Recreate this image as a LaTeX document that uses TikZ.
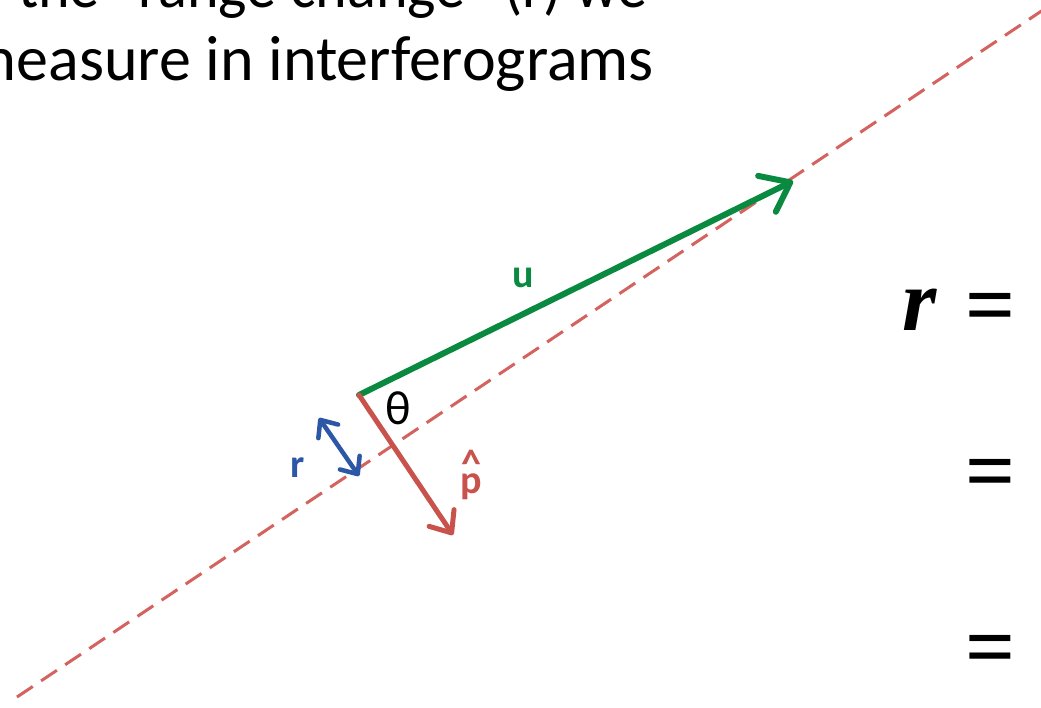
\documentclass[tikz,border=0pt]{standalone}
\usepackage{fontspec}
\setmainfont{Carlito}
\newfontfamily\timesfont{Liberation Serif}
\usetikzlibrary{arrows.meta}
\definecolor{ugreen}{RGB}{10,138,64}
\definecolor{pred}{RGB}{200,82,76}
\definecolor{rblue}{RGB}{44,86,166}
\definecolor{dashred}{RGB}{212,98,94}
\tikzset{
  dashline/.style={draw=dashred, line width=3pt, dash pattern=on 19pt off 10pt},
  uarrow/.style={draw=ugreen, line width=6pt, line cap=round,
    -{Straight Barb[length=26pt, width=40pt, line width=6pt, round]}},
  parrow/.style={draw=pred, line width=5pt, line cap=round,
    -{Straight Barb[length=18pt, width=30pt, line width=5pt, round]}},
  rarrow/.style={draw=rblue, line width=4.5pt, line cap=round,
    {Straight Barb[length=14pt, width=24pt, line width=4.5pt, round]}-{Straight Barb[length=14pt, width=24pt, line width=4.5pt, round]}},
  toptext/.style={font=\fontsize{64}{72}\selectfont, inner sep=0pt, text=black},
  lbl/.style={font=\fontsize{40}{48}\selectfont\bfseries, inner sep=0pt},
  eqtext/.style={font=\timesfont\fontsize{88}{100}\selectfont\bfseries, inner sep=0pt, text=black}
}
\begin{document}
\begin{tikzpicture}[x=1pt,y=-1pt]
\useasboundingbox (0,0) rectangle (1041,707);
\clip (0,0) rectangle (1041,707);
\fill[white] (0,0) rectangle (1041,707);
% top text
\node[toptext, anchor=base west, xscale=0.94, transform shape] (t1) at (18,7) {the “range change” (r) we};
\node[toptext, anchor=base east] (t2) at (654,80) {measure in interferograms};
% dashed line of sight
\coordinate (L1) at (17,697);
\coordinate (L2) at (1043,10);
\draw[dashline] (L1) -- (L2);
% vectors
\coordinate (O) at (359,395);
\coordinate (U) at (793,181);
\coordinate (P) at (453,535);
\coordinate (B1) at (319,418);
\coordinate (B2) at (359,476);
\draw[uarrow] (O) -- (U);
\draw[parrow] (O) -- (P);
\draw[rarrow] (B1) -- (B2);
% labels
\node[lbl, text=ugreen] (lu) at (523,278) {u};
\node[font=\fontsize{48}{56}\selectfont, inner sep=0pt] (lth) at (398,408) {θ};
\node[lbl, text=rblue] (lr) at (298,468) {r};
\node[lbl, text=pred, align=center, anchor=base] (lp) at (471,493) {\^{}\\[-32pt]p};
% equations
\node[eqtext, anchor=base] (req) at (920,330) {\textit{r}};
\node[eqtext, anchor=base] (e1) at (991,334) {=};
\node[eqtext, anchor=base] (e2) at (991,500) {=};
\node[eqtext, anchor=base] (e3) at (991,676) {=};
\end{tikzpicture}
\end{document}
